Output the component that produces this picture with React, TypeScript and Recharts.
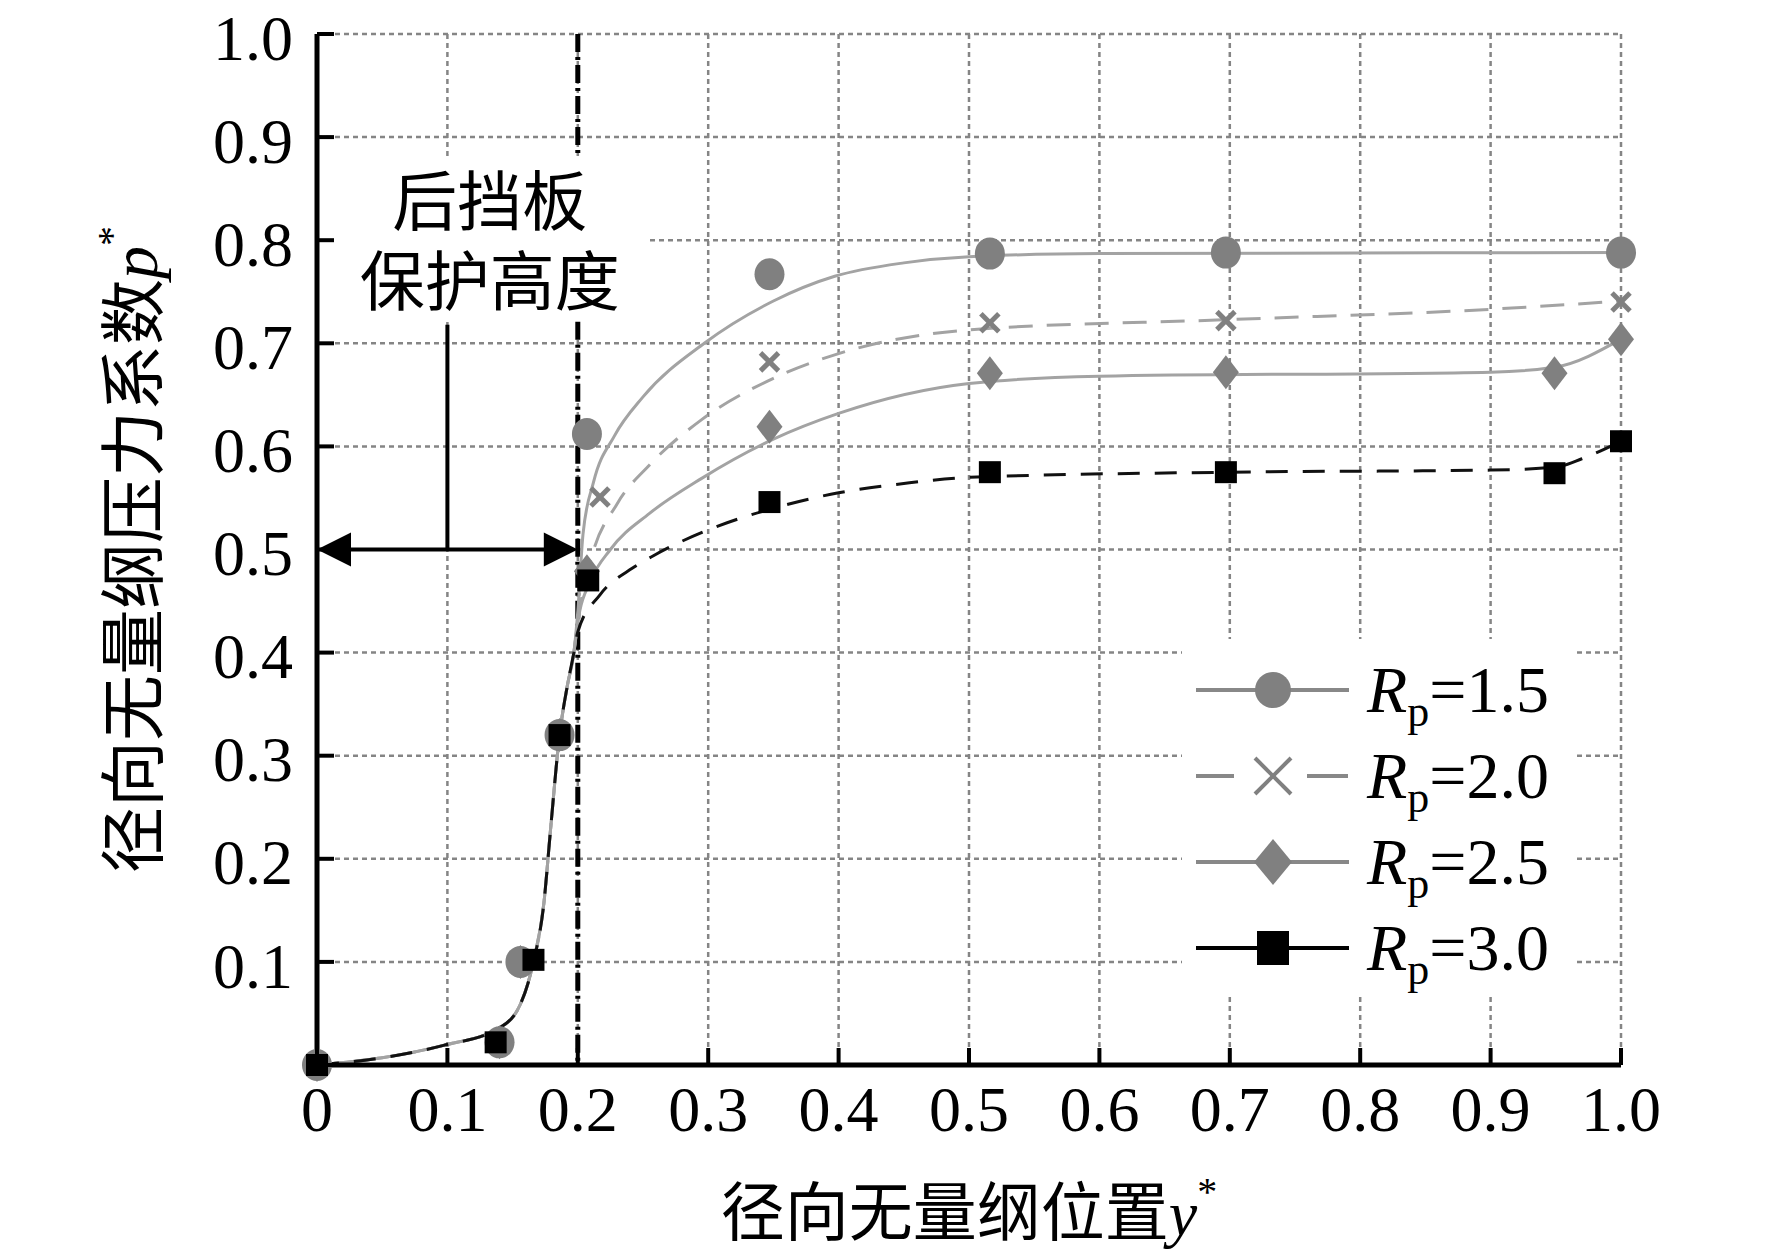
import {
  CartesianGrid,
  ComposedChart,
  Label,
  Legend,
  Line,
  ReferenceArea,
  ReferenceDot,
  ReferenceLine,
  Scatter,
  XAxis,
  YAxis,
} from 'recharts'

const FONT = "'Liberation Serif', 'Times New Roman', 'Noto Sans CJK SC', serif"

const xTicks = [0, 0.1, 0.2, 0.3, 0.4, 0.5, 0.6, 0.7, 0.8, 0.9, 1.0]
const yTicks = [0, 0.1, 0.2, 0.3, 0.4, 0.5, 0.6, 0.7, 0.8, 0.9, 1.0]
const xTickLabels = ['0', '0.1', '0.2', '0.3', '0.4', '0.5', '0.6', '0.7', '0.8', '0.9', '1.0']
const yTickLabels = ['', '0.1', '0.2', '0.3', '0.4', '0.5', '0.6', '0.7', '0.8', '0.9', '1.0']

const seriesNames = ['1.5', '2.0', '2.5', '3.0']

// measured points (markers)
const rp15Points = [
  { x: 0, y: 0 }, { x: 0.14, y: 0.022 }, { x: 0.156, y: 0.1 }, { x: 0.186, y: 0.32 },
  { x: 0.207, y: 0.612 }, { x: 0.347, y: 0.767 }, { x: 0.516, y: 0.787 }, { x: 0.697, y: 0.788 },
  { x: 1.0, y: 0.788 },
]
const rp20Points = [
  { x: 0, y: 0 }, { x: 0.14, y: 0.022 }, { x: 0.155, y: 0.1 }, { x: 0.186, y: 0.32 },
  { x: 0.217, y: 0.551 }, { x: 0.347, y: 0.682 }, { x: 0.516, y: 0.72 }, { x: 0.697, y: 0.722 },
  { x: 1.0, y: 0.74 },
]
const rp25Points = [
  { x: 0, y: 0 }, { x: 0.14, y: 0.022 }, { x: 0.156, y: 0.1 }, { x: 0.186, y: 0.32 },
  { x: 0.207, y: 0.479 }, { x: 0.347, y: 0.619 }, { x: 0.516, y: 0.671 }, { x: 0.697, y: 0.672 },
  { x: 0.949, y: 0.671 }, { x: 1.0, y: 0.704 },
]
const rp30Points = [
  { x: 0, y: 0 }, { x: 0.137, y: 0.022 }, { x: 0.166, y: 0.102 }, { x: 0.186, y: 0.32 },
  { x: 0.208, y: 0.47 }, { x: 0.347, y: 0.546 }, { x: 0.516, y: 0.575 }, { x: 0.697, y: 0.575 },
  { x: 0.949, y: 0.574 }, { x: 1.0, y: 0.605 },
]

// fitted curves
const riseCurve = [
  { x: 0, y: 0 }, { x: 0.05, y: 0.007 }, { x: 0.097, y: 0.019 }, { x: 0.14, y: 0.036 },
  { x: 0.156, y: 0.059 }, { x: 0.166, y: 0.1 }, { x: 0.174, y: 0.157 }, { x: 0.179, y: 0.227 },
  { x: 0.186, y: 0.32 }, { x: 0.192, y: 0.368 }, { x: 0.197, y: 0.4 },
]
const rp15Curve = [
  ...riseCurve,
  { x: 0.2, y: 0.44 }, { x: 0.204, y: 0.515 }, { x: 0.212, y: 0.565 }, { x: 0.228, y: 0.61 },
  { x: 0.25, y: 0.648 }, { x: 0.297, y: 0.7 }, { x: 0.35, y: 0.741 }, { x: 0.397, y: 0.765 },
  { x: 0.45, y: 0.778 }, { x: 0.5, y: 0.784 }, { x: 0.6, y: 0.787 }, { x: 1.0, y: 0.788 },
]
const rp20Curve = [
  ...riseCurve,
  { x: 0.2, y: 0.43 }, { x: 0.21, y: 0.49 }, { x: 0.23, y: 0.544 }, { x: 0.255, y: 0.582 },
  { x: 0.295, y: 0.626 }, { x: 0.35, y: 0.666 }, { x: 0.4, y: 0.69 }, { x: 0.5, y: 0.713 },
  { x: 0.7, y: 0.723 }, { x: 0.9, y: 0.733 }, { x: 1.0, y: 0.741 },
]
const rp25Curve = [
  ...riseCurve,
  { x: 0.2, y: 0.43 }, { x: 0.21, y: 0.47 }, { x: 0.225, y: 0.5 }, { x: 0.255, y: 0.535 },
  { x: 0.295, y: 0.569 }, { x: 0.35, y: 0.607 }, { x: 0.4, y: 0.632 }, { x: 0.5, y: 0.661 },
  { x: 0.6, y: 0.668 }, { x: 0.9, y: 0.672 }, { x: 0.95, y: 0.677 }, { x: 1.0, y: 0.704 },
]
const rp30Curve = [
  ...riseCurve,
  { x: 0.2, y: 0.42 }, { x: 0.217, y: 0.456 }, { x: 0.242, y: 0.482 }, { x: 0.258, y: 0.494 },
  { x: 0.3, y: 0.519 }, { x: 0.35, y: 0.54 }, { x: 0.4, y: 0.555 }, { x: 0.45, y: 0.564 },
  { x: 0.5, y: 0.57 }, { x: 0.7, y: 0.575 }, { x: 0.9, y: 0.577 }, { x: 0.95, y: 0.58 },
  { x: 0.97, y: 0.588 }, { x: 1.0, y: 0.605 },
]

const GRAY_MARK = '#808080'
const GRAY_LINE = '#a3a3a3'

function Circle({ cx, cy }: any) {
  return <ellipse cx={cx} cy={cy} rx={15} ry={16} fill={GRAY_MARK} />
}
function Cross({ cx, cy }: any) {
  return (
    <g stroke={GRAY_MARK} strokeWidth={5}>
      <line x1={cx - 9} y1={cy - 9} x2={cx + 9} y2={cy + 9} />
      <line x1={cx - 9} y1={cy + 9} x2={cx + 9} y2={cy - 9} />
    </g>
  )
}
function Diamond({ cx, cy }: any) {
  return <polygon points={`${cx},${cy - 17} ${cx + 13},${cy} ${cx},${cy + 17} ${cx - 13},${cy}`} fill={GRAY_MARK} />
}
function Square({ cx, cy }: any) {
  return <rect x={cx - 11} y={cy - 11} width={22} height={22} fill="#000" />
}

function labelFor(list: string[], value: number) {
  const i = xTicks.findIndex((t) => Math.abs(t - value) < 1e-6)
  return i >= 0 ? list[i] : ''
}

function BottomTick({ x, y, payload }: any) {
  return (
    <g>
      <line x1={x} y1={y} x2={x} y2={y - 17} stroke="#000" strokeWidth={4} />
      <text x={x} y={y + 66} textAnchor="middle" fontSize={64} fontFamily={FONT} fill="#000">
        {labelFor(xTickLabels, payload.value)}
      </text>
    </g>
  )
}
function TopTick({ x, y }: any) {
  return <line x1={x} y1={y} x2={x} y2={y + 17} stroke="#000" strokeWidth={4} />
}
function LeftTick({ x, y, payload }: any) {
  return (
    <g>
      <line x1={x} y1={y} x2={x + 17} y2={y} stroke="#000" strokeWidth={4} />
      <text x={x - 24} y={y} dy="0.4em" textAnchor="end" fontSize={64} fontFamily={FONT} fill="#000">
        {labelFor(yTickLabels, payload.value)}
      </text>
    </g>
  )
}
function RightTick({ x, y }: any) {
  return <line x1={x} y1={y} x2={x - 17} y2={y} stroke="#000" strokeWidth={4} />
}

function LeftArrow({ cx, cy }: any) {
  return <polygon points={`${cx},${cy} ${cx + 34},${cy - 17} ${cx + 34},${cy + 17}`} fill="#000" />
}
function RightArrow({ cx, cy }: any) {
  return <polygon points={`${cx},${cy} ${cx - 34},${cy - 17} ${cx - 34},${cy + 17}`} fill="#000" />
}

function XTitle({ viewBox }: any) {
  const cx = viewBox.x + viewBox.width / 2
  return (
    <text x={cx} y={viewBox.y + 170} textAnchor="middle" fontSize={64} fontFamily={FONT} fill="#000">
      <tspan>径向无量纲位置</tspan>
      <tspan fontStyle="italic">y</tspan>
      <tspan fontSize={40} dy={-30}>*</tspan>
    </text>
  )
}
function YTitle({ viewBox }: any) {
  const cx = viewBox.x - 40
  const cy = viewBox.y + viewBox.height / 2
  return (
    <text
      x={cx}
      y={cy}
      transform={`rotate(-90 ${cx} ${cy})`}
      textAnchor="middle"
      fontSize={66}
      fontFamily={FONT}
      fill="#000"
    >
      <tspan>径向无量纲压力系数</tspan>
      <tspan fontStyle="italic">p</tspan>
      <tspan fontSize={40} dy={-32}>*</tspan>
    </text>
  )
}
function NoteText({ viewBox }: any) {
  const cx = viewBox.x + viewBox.width / 2 + 4
  return (
    <text textAnchor="middle" fontSize={65} fontFamily={FONT} fill="#000">
      <tspan x={cx} y={viewBox.y + 67}>后挡板</tspan>
      <tspan x={cx} y={viewBox.y + 147}>保护高度</tspan>
    </text>
  )
}

const legendRows = [
  { name: seriesNames[0], dashed: false, color: '#888', marker: 'circle' },
  { name: seriesNames[1], dashed: true, color: '#888', marker: 'cross' },
  { name: seriesNames[2], dashed: false, color: '#888', marker: 'diamond' },
  { name: seriesNames[3], dashed: false, color: '#000', marker: 'square' },
]

function LegendBox() {
  return (
    <svg width={394} height={355}>
      {legendRows.map((row, i) => {
        const cy = 51 + i * 86
        const mx = 91
        return (
          <g key={row.name}>
            {row.dashed ? (
              <g stroke={row.color} strokeWidth={4}>
                <line x1={14} y1={cy} x2={52} y2={cy} />
                <line x1={125} y1={cy} x2={166} y2={cy} />
              </g>
            ) : (
              <line x1={14} y1={cy} x2={167} y2={cy} stroke={row.color} strokeWidth={4} />
            )}
            {row.marker === 'circle' && <ellipse cx={mx} cy={cy} rx={18} ry={18} fill={GRAY_MARK} />}
            {row.marker === 'cross' && (
              <g stroke={GRAY_MARK} strokeWidth={4}>
                <line x1={mx - 18} y1={cy - 18} x2={mx + 18} y2={cy + 18} />
                <line x1={mx - 18} y1={cy + 18} x2={mx + 18} y2={cy - 18} />
              </g>
            )}
            {row.marker === 'diamond' && (
              <polygon points={`${mx},${cy - 23} ${mx + 19},${cy} ${mx},${cy + 23} ${mx - 19},${cy}`} fill={GRAY_MARK} />
            )}
            {row.marker === 'square' && <rect x={mx - 16} y={cy - 17} width={32} height={34} fill="#000" />}
            <text x={185} y={cy + 22} fontSize={66} fontFamily={FONT} fill="#000">
              <tspan fontStyle="italic">R</tspan>
              <tspan fontSize={44} dy={14}>p</tspan>
              <tspan dy={-14}>={row.name}</tspan>
            </text>
          </g>
        )
      })}
    </svg>
  )
}

export default function App() {
  return (
    <div style={{ position: 'absolute', left: 0, top: 0, background: '#fff', fontFamily: FONT }}>
      <ComposedChart width={1772} height={1255} margin={{ top: 34, right: 151, bottom: 110, left: 197 }}>
        <CartesianGrid stroke="#858585" strokeWidth={2.5} strokeDasharray="5 4" />
        <XAxis
          dataKey="x"
          type="number"
          domain={[0, 1]}
          ticks={xTicks}
          height={80}
          tickSize={0}
          tickMargin={0}
          tickLine={false}
          tick={<BottomTick />}
          axisLine={{ stroke: '#000', strokeWidth: 5 }}
          interval={0}
        >
          <Label content={<XTitle />} />
        </XAxis>
        <XAxis
          xAxisId="top"
          orientation="top"
          dataKey="x"
          type="number"
          domain={[0, 1]}
          ticks={xTicks}
          height={0}
          tickSize={0}
          tickMargin={0}
          tickLine={false}
          tick={<TopTick />}
          axisLine={{ stroke: '#000', strokeWidth: 5 }}
          interval={0}
        />
        <YAxis
          type="number"
          domain={[0, 1]}
          ticks={yTicks}
          width={120}
          tickSize={0}
          tickMargin={0}
          tickLine={false}
          tick={<LeftTick />}
          axisLine={{ stroke: '#000', strokeWidth: 5 }}
          interval={0}
        >
          <Label content={<YTitle />} />
        </YAxis>
        <YAxis
          yAxisId="right"
          orientation="right"
          type="number"
          domain={[0, 1]}
          ticks={yTicks}
          width={0}
          tickSize={0}
          tickMargin={0}
          tickLine={false}
          tick={<RightTick />}
          axisLine={{ stroke: '#000', strokeWidth: 5 }}
          interval={0}
        />

        <ReferenceLine segment={[{ x: 0.2, y: 1 }, { x: 0.2, y: 0.88 }]} stroke="#000" strokeWidth={5} strokeDasharray="18 5 3 5" />
        <ReferenceLine segment={[{ x: 0.2, y: 0.721 }, { x: 0.2, y: 0 }]} stroke="#000" strokeWidth={5} strokeDasharray="18 5 3 5" />
        <ReferenceArea x1={0.005} x2={0.254} y1={0.721} y2={0.88} fill="#fff" fillOpacity={1} stroke="none">
          <Label content={<NoteText />} />
        </ReferenceArea>
        <ReferenceLine segment={[{ x: 0.1, y: 0.718 }, { x: 0.1, y: 0.5 }]} stroke="#000" strokeWidth={4} />
        <ReferenceLine segment={[{ x: 0.01, y: 0.5 }, { x: 0.19, y: 0.5 }]} stroke="#000" strokeWidth={4} />
        <ReferenceDot x={0} y={0.5} r={0} shape={<LeftArrow />} />
        <ReferenceDot x={0.2} y={0.5} r={0} shape={<RightArrow />} />

        <Line data={rp15Curve} dataKey="y" type="monotone" stroke={GRAY_LINE} strokeWidth={3} dot={false} isAnimationActive={false} />
        <Line data={rp20Curve} dataKey="y" type="monotone" stroke={GRAY_LINE} strokeWidth={3} strokeDasharray="24 14" dot={false} isAnimationActive={false} />
        <Line data={rp25Curve} dataKey="y" type="monotone" stroke={GRAY_LINE} strokeWidth={3} dot={false} isAnimationActive={false} />
        <Line data={rp30Curve} dataKey="y" type="monotone" stroke="#111" strokeWidth={3} strokeDasharray="22 15" dot={false} isAnimationActive={false} />

        <Scatter data={rp15Points} dataKey="y" shape={<Circle />} isAnimationActive={false} />
        <Scatter data={rp20Points} dataKey="y" shape={<Cross />} isAnimationActive={false} />
        <Scatter data={rp25Points} dataKey="y" shape={<Diamond />} isAnimationActive={false} />
        <Scatter data={rp30Points} dataKey="y" shape={<Square />} isAnimationActive={false} />

        <Legend
          layout="vertical"
          align="center"
          verticalAlign="middle"
          content={<LegendBox />}
          wrapperStyle={{ position: 'absolute', left: 1182, top: 639, width: 394, height: 355, background: '#fff' }}
        />
      </ComposedChart>
    </div>
  )
}
